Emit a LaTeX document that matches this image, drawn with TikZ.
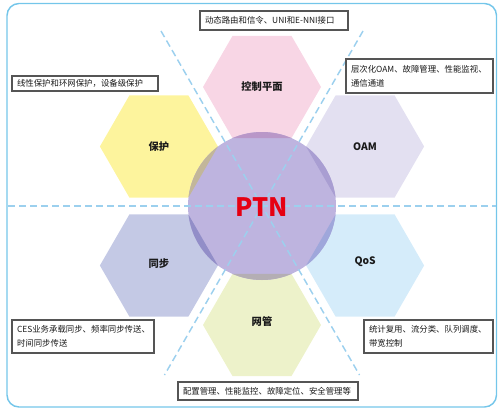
\documentclass[tikz,border=0pt]{standalone}
\usepackage{fontspec}
\setmainfont{Noto Sans CJK SC}
\usetikzlibrary{calc}
\definecolor{frameblue}{HTML}{74C6EA}
\definecolor{dashblue}{HTML}{9CD0EE}
\definecolor{hpink}{HTML}{F8D6E5}
\definecolor{hoam}{HTML}{E3E0F1}
\definecolor{hqos}{HTML}{D5ECFA}
\definecolor{hnm}{HTML}{EDF2CA}
\definecolor{hsync}{HTML}{C4C9E5}
\definecolor{hprot}{HTML}{FDF49D}
\definecolor{circ}{HTML}{BEB4DF}
\definecolor{opink}{HTML}{B997C8}
\definecolor{ooam}{HTML}{A99ED2}
\definecolor{oqos}{HTML}{9FA7DB}
\definecolor{onm}{HTML}{B4AEB4}
\definecolor{osync}{HTML}{928EC8}
\definecolor{oprot}{HTML}{C2B69A}
\definecolor{ptnred}{HTML}{E60012}
\definecolor{boxline}{HTML}{555555}
\definecolor{labelc}{HTML}{1A1A1A}
\tikzset{
  hexa/.pic={\path[pic actions] (59,0) -- (29.5,-51.1) -- (-29.5,-51.1) -- (-59,0) -- (-29.5,51.1) -- (29.5,51.1) -- cycle;},
  descbox/.style={draw=boxline, line width=0.8pt, fill=white, inner xsep=3.75pt, inner ysep=0pt,
    align=left, font=\fontsize{6.3}{10.5}\selectfont, text=labelc},
  hexlabel/.style={font=\fontsize{7.7}{9}\selectfont\bfseries, text=labelc},
  sep/.style={dashblue, line width=1.1pt, dash pattern=on 5.25pt off 3pt},
}
\begin{document}
\begin{tikzpicture}[x=0.75pt,y=-0.75pt]
\useasboundingbox (0,0) rectangle (500,410);
\draw[frameblue, line width=1.1pt, rounded corners=9pt] (7,3.5) rectangle (496.5,407);

\coordinate (ctr) at (262,206);
\coordinate (hc1) at (262,87);
\coordinate (hc2) at (365.1,146.5);
\coordinate (hc3) at (365.1,265.5);
\coordinate (hc4) at (262,325);
\coordinate (hc5) at (158.9,265.5);
\coordinate (hc6) at (158.9,146.5);

\pic[fill=hpink] at (hc1) {hexa};
\pic[fill=hoam] at (hc2) {hexa};
\pic[fill=hqos] at (hc3) {hexa};
\pic[fill=hnm] at (hc4) {hexa};
\pic[fill=hsync] at (hc5) {hexa};
\pic[fill=hprot] at (hc6) {hexa};

\node[circle, fill=circ, minimum size=111pt, inner sep=0pt] (ptncircle) at (ctr) {};
\begin{scope}
  \clip (ctr) circle[radius=55.5pt];
  \pic[fill=opink] at (hc1) {hexa};
  \pic[fill=ooam] at (hc2) {hexa};
  \pic[fill=oqos] at (hc3) {hexa};
  \pic[fill=onm] at (hc4) {hexa};
  \pic[fill=osync] at (hc5) {hexa};
  \pic[fill=oprot] at (hc6) {hexa};
\end{scope}

\coordinate (hl) at (8,206);
\coordinate (hr) at (496,206);
\coordinate (ul) at (161,31);
\coordinate (ur) at (363,31);
\coordinate (ll) at (164.5,375);
\coordinate (lr) at (359.5,375);
\draw[sep] (hl) -- (hr);
\draw[sep] (ul) -- (lr);
\draw[sep] (ur) -- (ll);

\node[font=\fontsize{19}{23}\selectfont\bfseries, text=ptnred] (ptn) at ($(ctr)+(0,1)$) {PTN};

\node[hexlabel] (l1) at (hc1) {控制平面};
\node[hexlabel] (l2) at (hc2) {OAM};
\node[hexlabel] (l3) at ($(hc3)+(0,-4)$) {QoS};
\node[hexlabel] (l4) at ($(hc4)+(0,-3)$) {网管};
\node[hexlabel] (l5) at ($(hc5)+(0,-2)$) {同步};
\node[hexlabel] (l6) at (hc6) {保护};

\node[descbox, text width=103.5pt, minimum height=14.25pt] (d1) at (274,20.5) {动态路由和信令、UNI和E-NNI接口};
\node[descbox, text width=102pt, minimum height=11.25pt] (d6) at (85,83.5) {线性保护和环网保护，设备级保护};
\node[descbox, text width=102.75pt, minimum height=25.5pt] (d2) at (419.5,76) {层次化OAM、故障管理、性能监视、\\通信通道};
\node[descbox, text width=99pt, minimum height=24.75pt] (d5) at (83,336.5) {CES业务承载同步、频率同步传送、\\时间同步传送};
\node[descbox, text width=89.25pt, minimum height=24.75pt] (d3) at (428.5,336.5) {统计复用、流分类、队列调度、\\带宽控制};
\node[descbox, text width=127.5pt, minimum height=13.5pt] (d4) at (268,391) {配置管理、性能监控、故障定位、安全管理等};
\end{tikzpicture}
\end{document}
